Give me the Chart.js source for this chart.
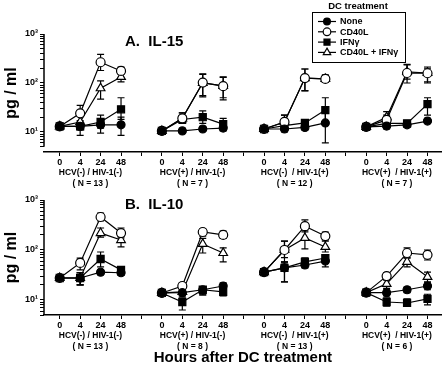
<!DOCTYPE html>
<html>
<head>
<meta charset="utf-8">
<script src="https://cdn.jsdelivr.net/npm/chart.js@4.4.1/dist/chart.umd.min.js"></script>
<style>
  body { margin: 0; background: #fff; }
  canvas { display: block; }
</style>
</head>
<body>
<canvas id="il15" width="448" height="188"></canvas>
<canvas id="il10" width="448" height="180"></canvas>
<script>
// Categories
const hours = ['0', '4', '24', '48'];
const groups = ['HCV(-) / HIV-1(-)', 'HCV(+) / HIV-1(-)', 'HCV(-)  / HIV-1(+)', 'HCV(+)  / HIV-1(+)'];
const il15N = ['( N = 13 )', '( N = 7 )', '( N = 12 )', '( N = 7 )'];
const il10N = ['( N = 13 )', '( N = 8 )', '( N = 13 )', '( N = 6 )'];
const treatments = ['None', 'CD40L', 'IFN\u03b3', 'CD40L + IFN\u03b3'];
const yTickLabels = { 10: '10\u00b9', 100: '10\u00b2', 1000: '10\u00b3' };

// IL-15 (pg/ml), 4 groups x 4 time points, with error bar ends
const il15None   = [13, 13, 14, 14,   10.5, 10.5, 11.5, 12,   11.5, 11.5, 12.4, 15.3,   12.7, 13.2, 14, 16.7];
const il15NoneHi = [null, 16, 18, 20,   null, 12, 13, 16,   null, 13, 14, 24,   null, 15, 16, 19];
const il15NoneLo = [null, 8.5, 9.5, 8.5,   null, 9.5, 10.5, 10.5,   null, 10, 11, 6,   null, 11.5, 12.5, 15];
const il15Cd40   = [13, 24, 265, 176,   10.5, 19, 102, 86,   11.5, 16, 126, 121,   12.7, 17.6, 160, 158];
const il15Cd40Hi = [null, 35, 385, 210,   null, 24.5, 153, 133,   null, 22, 193, 146,   null, 22, 233, 212];
const il15Cd40Lo = [null, 17, 180, 150,   null, 15, 52, 45,   null, 13, 69, 105,   null, 15, 100, 100];
const il15Ifn    = [13, 13, 16, 29,   10.5, 18, 20, 14.5,   11.5, 13.5, 15.3, 28,   12.7, 15, 15, 37];
const il15IfnHi  = [null, 15, 22, 50,   null, 20, 27, 19,   null, 15, 17, 50,   null, 17, 17, 50];
const il15IfnLo  = [null, 11, 12, 18,   null, 16, 15, 11,   null, 12, 13, 16,   null, 13, 13, 22];
const il15Both   = [13, 16, 78, 133,   10.5, 19, 100, 87,   11.5, 16, 126, 121,   12.7, 20, 168, 160];
const il15BothHi = [null, 22, 110, 160,   null, 24.5, 150, 130,   null, 22, 193, 140,   null, 26, 240, 200];
const il15BothLo = [null, 13, 47, 105,   null, 15, 55, 50,   null, 14, 70, 105,   null, 17, 120, 105];

// IL-10 (pg/ml)
const il10None   = [27.5, 27.5, 36, 35,   13.8, 14, 16, 19,   36, 44, 50, 60,   14, 14, 16, 19];
const il10NoneHi = [null, 35, 40, 40,   null, 16, 18.5, 22,   null, 58, 69, 80,   null, 16, 18, 22];
const il10NoneLo = [null, 20, 32, 31,   null, 12, 12.6, 16,   null, 23, 44, 46,   null, 12, 14, 16];
const il10Cd40   = [27.5, 55, 457, 218,   13.8, 19, 229, 200,   36, 100, 300, 190,   14, 30, 87, 80];
const il10Cd40Hi = [null, 69, 550, 275,   null, 22, 263, 240,   null, 150, 400, 229,   null, 35, 110, 100];
const il10Cd40Lo = [null, 40, 380, 175,   null, 16, 190, 170,   null, 70, 230, 160,   null, 25, 70, 63];
const il10Ifn    = [27.5, 27.5, 66, 40,   13.8, 9.1, 16, 14.5,   36, 44, 58, 69,   14, 9.1, 8.7, 10.5];
const il10IfnHi  = [null, 35, 91, 44,   null, 11, 18.5, 17,   null, 58, 69, 80,   null, 11, 10.5, 13];
const il10IfnLo  = [null, 20, 46, 36,   null, 6.3, 12.6, 12,   null, 23, 48, 55,   null, 7.5, 7.5, 8];
const il10Both   = [27.5, 27.5, 218, 158,   13.8, 14.5, 132, 87,   36, 100, 174, 115,   14, 21, 58, 29];
const il10BothHi = [null, 35, 275, 190,   null, 17, 170, 110,   null, 150, 250, 150,   null, 26, 69, 36];
const il10BothLo = [null, 20, 180, 115,   null, 12, 87, 58,   null, 55, 105, 91,   null, 17, 46, 23];

const FONT = '"Liberation Sans", Arial, Helvetica, sans-serif';

// marker style for each treatment
const markers = [
    { pointStyle: 'circle',   radius: 4,   fill: '#000' },
    { pointStyle: 'circle',   radius: 4.5, fill: '#fff' },
    { pointStyle: 'rect',     radius: 5,   fill: '#000' },
    { pointStyle: 'triangle', radius: 5,   fill: '#fff' }
];

// x position = group * 5 + time index; a null point at the gap breaks the line
function toPoints(values) {
    const pts = [];
    for (let g = 0; g < 4; g++) {
        for (let i = 0; i < 4; i++) {
            pts.push({ x: g * 5 + i, y: values[g * 4 + i] });
        }
        if (g < 3) pts.push({ x: g * 5 + 4, y: null });
    }
    return pts;
}

function makeDataset(index, values, hi, lo) {
    const m = markers[index];
    return {
        label: treatments[index],
        data: toPoints(values),
        errHi: hi,
        errLo: lo,
        borderColor: '#000',
        borderWidth: 1.2,
        backgroundColor: m.fill,
        pointStyle: m.pointStyle,
        pointRadius: m.radius,
        pointBackgroundColor: m.fill,
        pointBorderColor: '#000',
        pointBorderWidth: 1.2,
        spanGaps: false,
        tension: 0
    };
}

// error bars, axis line, panel title and legend
const decorPlugin = {
    id: 'decor',
    beforeDatasetsDraw(chart) {
        const ctx = chart.ctx;
        const xs = chart.scales.x, ys = chart.scales.y;
        ctx.save();
        ctx.strokeStyle = '#000';
        ctx.lineWidth = 1.2;
        chart.data.datasets.forEach(ds => {
            for (let k = 0; k < 16; k++) {
                const g = Math.floor(k / 4), i = k % 4;
                const px = xs.getPixelForValue(g * 5 + i);
                const py = ys.getPixelForValue(ds.data[g * 5 + i].y);
                ctx.beginPath();
                [ds.errHi[k], ds.errLo[k]].forEach(v => {
                    if (v == null) return;
                    const ey = ys.getPixelForValue(v);
                    ctx.moveTo(px, py);
                    ctx.lineTo(px, ey);
                    ctx.moveTo(px - 3.5, ey);
                    ctx.lineTo(px + 3.5, ey);
                });
                ctx.stroke();
            }
        });
        ctx.restore();
    },
    afterDraw(chart, args, opts) {
        const ctx = chart.ctx;
        const ys = chart.scales.y;
        const left = chart.chartArea.left;
        ctx.save();
        // y axis line stops at the lowest tick (offset axes)
        ctx.strokeStyle = '#000';
        ctx.lineWidth = 1.5;
        ctx.beginPath();
        ctx.moveTo(left, ys.getPixelForValue(1000));
        ctx.lineTo(left, ys.getPixelForValue(5));
        ctx.stroke();

        // panel title
        ctx.fillStyle = '#000';
        ctx.font = 'bold 15px ' + FONT;
        ctx.textBaseline = 'middle';
        ctx.textAlign = 'left';
        ctx.fillText(opts.title, 125, opts.titleY);

        if (opts.legend) {
            ctx.font = 'bold 9.5px ' + FONT;
            ctx.textAlign = 'center';
            ctx.fillText('DC treatment', 358, 6);
            ctx.lineWidth = 1;
            ctx.strokeRect(312.5, 12.5, 93, 50);
            ctx.textAlign = 'left';
            ctx.font = 'bold 9px ' + FONT;
            chart.data.datasets.forEach((ds, i) => {
                const y = 21.5 + i * 10.3;
                ctx.strokeStyle = '#000';
                ctx.lineWidth = 1.2;
                ctx.beginPath();
                ctx.moveTo(318, y);
                ctx.lineTo(336, y);
                ctx.stroke();
                ctx.fillStyle = markers[i].fill;
                Chart.helpers.drawPoint(ctx, {
                    pointStyle: markers[i].pointStyle,
                    radius: markers[i].radius * 0.85,
                    borderWidth: 1.2,
                    rotation: 0
                }, 327, y);
                ctx.fillStyle = '#000';
                ctx.fillText(ds.label, 340, y + 0.5);
            });
        }
        ctx.restore();
    }
};

function makeChart(canvasId, sets, nLabels, opts) {
    const datasets = sets.map((s, i) => makeDataset(i, s[0], s[1], s[2]));
    return new Chart(document.getElementById(canvasId), {
        type: 'line',
        data: { datasets: datasets },
        plugins: [decorPlugin],
        options: {
            responsive: false,
            animation: false,
            devicePixelRatio: 1,
            layout: { padding: { top: opts.padTop, right: 0, bottom: 0, left: 0 } },
            plugins: {
                legend: { display: false },
                tooltip: { enabled: false },
                decor: { title: opts.title, titleY: opts.titleY, legend: opts.legend }
            },
            scales: {
                x: {
                    type: 'linear',
                    position: 'bottom',
                    min: -0.77,
                    max: 18.7,
                    afterBuildTicks: axis => {
                        axis.ticks = Array.from({ length: 19 }, (_, v) => ({ value: v }));
                    },
                    afterFit: axis => { axis.height = 15; },
                    ticks: {
                        autoSkip: false,
                        maxRotation: 0,
                        padding: 1,
                        color: '#000',
                        font: { family: FONT, size: 9, weight: 'bold' },
                        callback: v => (v % 5 === 4 ? '' : hours[v % 5])
                    },
                    grid: { drawOnChartArea: false, tickLength: 4, color: '#000', tickColor: '#000', tickWidth: 1 },
                    border: { color: '#000', width: 1.5 }
                },
                xg: {
                    type: 'linear',
                    position: 'bottom',
                    min: -0.77,
                    max: 18.7,
                    afterBuildTicks: axis => {
                        axis.ticks = [1.5, 6.5, 11.5, 16.5].map(v => ({ value: v }));
                    },
                    afterFit: axis => { axis.height = opts.groupAxisH; },
                    ticks: {
                        autoSkip: false,
                        maxRotation: 0,
                        padding: 1,
                        color: '#000',
                        font: { family: FONT, size: 8.5, weight: 'bold', lineHeight: 1.2 },
                        callback: (v, i) => [groups[i], nLabels[i]]
                    },
                    grid: { display: false, drawTicks: false, tickLength: 0 },
                    border: { display: false },
                    title: {
                        display: opts.xTitle,
                        text: 'Hours after DC treatment',
                        color: '#000',
                        font: { family: FONT, size: 15, weight: 'bold' },
                        padding: { top: 0, bottom: 1 }
                    }
                },
                y: {
                    type: 'logarithmic',
                    min: opts.yMin,
                    max: 1000,
                    afterBuildTicks: axis => {
                        const t = [];
                        [1, 10, 100].forEach(d => {
                            for (let k = 1; k <= 9; k++) {
                                const v = k * d;
                                if (v >= 5) t.push({ value: v, major: v === 10 || v === 100 });
                            }
                        });
                        t.push({ value: 1000, major: true });
                        axis.ticks = t;
                    },
                    afterFit: axis => { axis.width = 44; },
                    ticks: {
                        autoSkip: false,
                        padding: 2,
                        color: '#000',
                        font: { family: FONT, size: 9, weight: 'bold' },
                        callback: v => yTickLabels[v] || ''
                    },
                    grid: { drawOnChartArea: false, tickLength: 4, color: '#000', tickColor: '#000', tickWidth: 1 },
                    border: { display: false },
                    title: {
                        display: true,
                        text: 'pg / ml',
                        color: '#000',
                        font: { family: FONT, size: 16, weight: 'bold' },
                        padding: { top: 2, bottom: 0 }
                    }
                }
            }
        }
    });
}

makeChart('il15', [
    [il15None, il15NoneHi, il15NoneLo],
    [il15Cd40, il15Cd40Hi, il15Cd40Lo],
    [il15Ifn, il15IfnHi, il15IfnLo],
    [il15Both, il15BothHi, il15BothLo]
], il15N, { padTop: 34, yMin: 3.9, title: 'A.  IL-15', titleY: 42, legend: true, groupAxisH: 21, xTitle: false });

makeChart('il10', [
    [il10None, il10NoneHi, il10NoneLo],
    [il10Cd40, il10Cd40Hi, il10Cd40Lo],
    [il10Ifn, il10IfnHi, il10IfnLo],
    [il10Both, il10BothHi, il10BothLo]
], il10N, { padTop: 12, yMin: 5, title: 'B.  IL-10', titleY: 17, legend: false, groupAxisH: 38, xTitle: true });
</script>
</body>
</html>
